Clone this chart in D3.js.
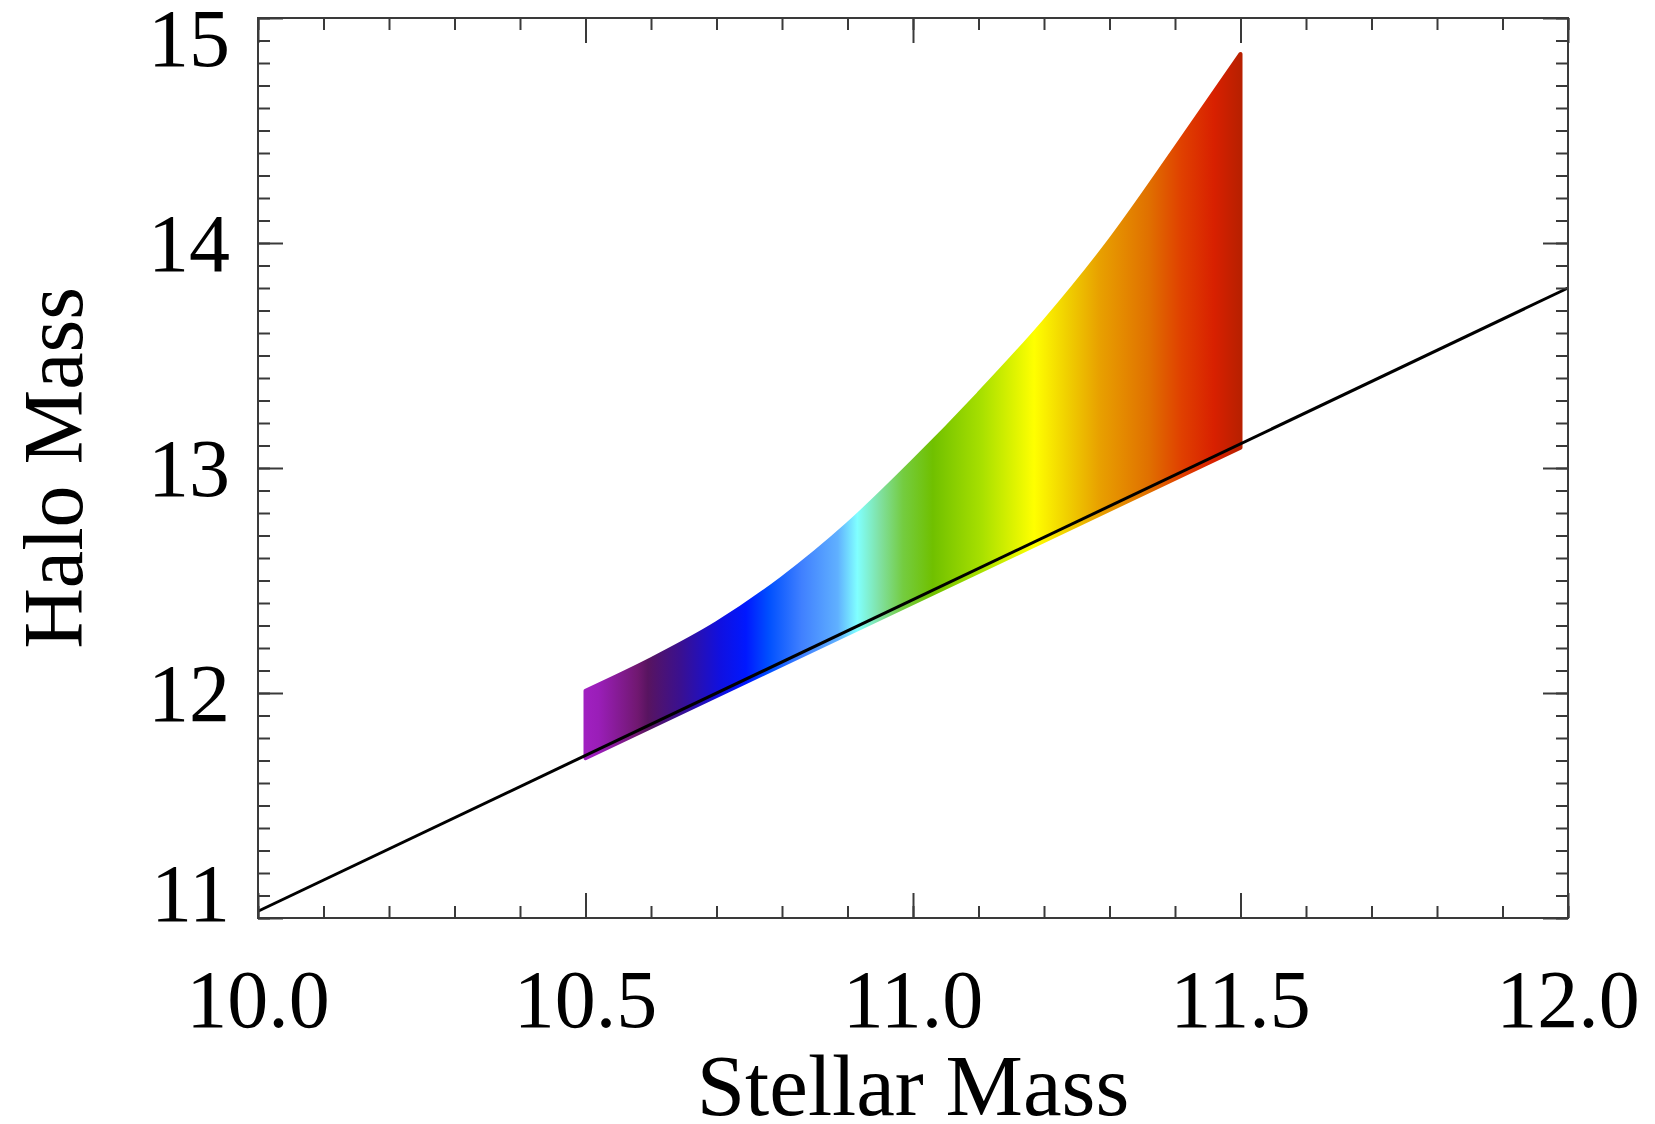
<!DOCTYPE html>
<html>
<head>
<meta charset="utf-8">
<script src="https://cdn.jsdelivr.net/npm/d3@7"></script>
<style>
  body{margin:0;background:#fff;}
  svg text{font-family:"Liberation Serif","Times New Roman",serif;fill:#000;}
</style>
</head>
<body>
<div id="chart"></div>
<script>
// data
var upperMass=[10.50,10.60,10.70,10.80,10.90,11.00,11.10,11.20,11.30,11.40,11.50];
var upperHalo=[12.01,12.15,12.31,12.51,12.75,13.03,13.33,13.65,14.01,14.42,14.84];
var lowerMass=[11.50,10.50];
var lowerHalo=[13.09,11.71];
var lineMass=[10.0,12.0];
var lineHalo=[11.03,13.80];
// colour along stellar mass (rainbow table)
var colorStops=[10.50,10.52,10.58,10.595,10.645,10.705,10.745,10.78,10.83,10.885,10.915,10.95,10.985,11.03,11.105,11.185,11.235,11.285,11.36,11.41,11.46,11.50];
var colorValues=['#a020c0','#9a1eb8','#701870','#581460','#3a1090','#1010e0','#0018ff','#0050ff','#4080ff','#60b0ff','#80ffff','#80e0a0','#74cc40','#70c000','#a8e000','#ffff00','#f0d000','#e8a000','#e07000','#e04000','#d82000','#b82000'];
var xTicks=[10.0,10.5,11.0,11.5,12.0];
var yTicks=[11,12,13,14,15];

(function haloChart(){
    'use strict';
    var width=1655, height=1124;
    var margin={top:18, right:87, bottom:206, left:258};
    var w=width-margin.left-margin.right,
        h=height-margin.top-margin.bottom;
    var frameColor='#3a3a3a';

    var svg=d3.select('#chart').append('svg')
        .attr('width',width)
        .attr('height',height);
    var g=svg.append('g')
        .attr('transform','translate('+margin.left+','+margin.top+')');

    var x=d3.scaleLinear().domain([10,12]).range([0,w]);
    var y=d3.scaleLinear().domain([11,15]).range([h,0]);

    var colour=d3.scaleLinear().domain(colorStops).range(colorValues);

    // horizontal gradient for the band
    var grad=svg.append('defs').append('linearGradient')
        .attr('id','bandGrad')
        .attr('gradientUnits','userSpaceOnUse')
        .attr('x1',x(colorStops[0])).attr('x2',x(colorStops[colorStops.length-1]))
        .attr('y1',0).attr('y2',0);
    var span=colorStops[colorStops.length-1]-colorStops[0];
    grad.selectAll('stop').data(colorStops).enter().append('stop')
        .attr('offset',function(d){return (d-colorStops[0])/span;})
        .attr('stop-color',function(d){return colour(d);});

    var upper=upperMass.map(function(m,i){return [x(m),y(upperHalo[i])];});
    var lower=lowerMass.map(function(m,i){return [x(m),y(lowerHalo[i])];});
    var topPath=d3.line().curve(d3.curveMonotoneX)(upper);
    var bandPath=topPath+'L'+lower.map(function(p){return p.join(',');}).join('L')+'Z';

    g.append('path')
        .attr('d',bandPath)
        .attr('fill','url(#bandGrad)')
        .attr('stroke','url(#bandGrad)')
        .attr('stroke-width',4)
        .attr('stroke-linejoin','round');

    // relation line
    g.append('path')
        .datum(lineMass.map(function(m,i){return [m,lineHalo[i]];}))
        .attr('d',d3.line().x(function(d){return x(d[0]);}).y(function(d){return y(d[1]);}))
        .attr('fill','none')
        .attr('stroke','#000')
        .attr('stroke-width',3);

    // minor ticks every 0.1 on all four sides
    var xMinor=d3.range(100,121).map(function(v){return v/10;});
    var yMinor=d3.range(110,151).map(function(v){return v/10;});
    function tickAxis(axis,sel,size,vals){
        var a=axis.tickValues(vals).tickSize(size).tickFormat('');
        sel.call(a);
        sel.select('.domain').remove();
        sel.selectAll('line').attr('stroke',frameColor).attr('stroke-width',2);
    }
    tickAxis(d3.axisBottom(x),g.append('g').attr('transform','translate(0,'+h+')'),-12,xMinor);
    tickAxis(d3.axisBottom(x),g.append('g').attr('transform','translate(0,'+h+')'),-25,xTicks);
    tickAxis(d3.axisTop(x),g.append('g'),-12,xMinor);
    tickAxis(d3.axisTop(x),g.append('g'),-25,xTicks);
    tickAxis(d3.axisLeft(y),g.append('g'),-12,yMinor);
    tickAxis(d3.axisLeft(y),g.append('g'),-25,yTicks);
    tickAxis(d3.axisRight(y),g.append('g').attr('transform','translate('+w+',0)'),-12,yMinor);
    tickAxis(d3.axisRight(y),g.append('g').attr('transform','translate('+w+',0)'),-25,yTicks);

    // frame
    g.append('rect')
        .attr('width',w).attr('height',h)
        .attr('fill','none')
        .attr('stroke',frameColor)
        .attr('stroke-width',2);

    // tick labels
    g.selectAll('.xlab').data(xTicks).enter().append('text')
        .attr('class','xlab')
        .attr('x',function(d){return x(d);})
        .attr('y',h+109)
        .attr('text-anchor','middle')
        .style('font-size','82px')
        .text(d3.format('.1f'));
    g.selectAll('.ylab').data(yTicks).enter().append('text')
        .attr('class','ylab')
        .attr('x',-28)
        //end labels get pushed inside the box, idl style
        .attr('y',function(d){return Math.max(20,Math.min(h-25,y(d)));})
        .attr('dy','0.34em')
        .attr('text-anchor','end')
        .style('font-size','82px')
        .text(function(d){return d;});

    // axis titles
    svg.append('text')
        .attr('x',margin.left+w/2)
        .attr('y',1115)
        .attr('text-anchor','middle')
        .style('font-size','87px')
        .text('Stellar Mass');
    svg.append('text')
        .attr('transform','translate(82,'+(margin.top+h/2)+') rotate(-90)')
        .attr('text-anchor','middle')
        .style('font-size','84px')
        .text('Halo Mass');
})();
</script>
</body>
</html>
